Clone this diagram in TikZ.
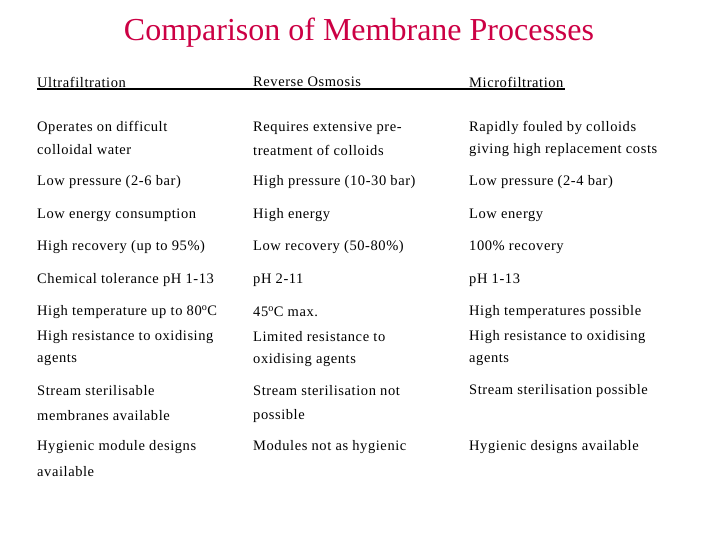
\documentclass[tikz,border=0pt]{standalone}
\usepackage{fontspec}
\setmainfont{Liberation Serif}
\newfontfamily\cellfont[LetterSpace=4]{Liberation Serif}
\begin{document}
\begin{tikzpicture}[x=1pt,y=-1pt,
  cell/.style={anchor=west,inner sep=0pt,font=\cellfont\fontsize{14.5}{16}\selectfont},
  ttl/.style={inner sep=0pt,font=\fontsize{32}{36}\selectfont,text=titlered}]
\definecolor{titlered}{RGB}{204,0,68}
\useasboundingbox (0,0) rectangle (720,540);
\node[ttl] (title) at (359,33) {Comparison of Membrane Processes};
\newcommand{\mydeg}{\textsuperscript{o}}
\foreach \y/\a/\b/\c [count=\i] in {
 82/Ultrafiltration/Reverse Osmosis/Microfiltration,
 128/Operates on difficult/Requires extensive pre-/Rapidly fouled by colloids,
 150/colloidal water/treatment of colloids/giving high replacement costs,
 182/Low pressure (2-6 bar)/High pressure (10-30 bar)/Low pressure (2-4 bar),
 215/Low energy consumption/High energy/Low energy,
 247/High recovery (up to 95\%)/Low recovery (50-80\%)/100\% recovery,
 280/Chemical tolerance pH 1-13/pH 2-11/pH 1-13,
 312/High temperature up to 80\mydeg C/45\mydeg C max./High temperatures possible,
 337/High resistance to oxidising/Limited resistance to/High resistance to oxidising,
 360/agents/oxidising agents/agents,
 391/Stream sterilisable/Stream sterilisation not/Stream sterilisation possible,
 416/membranes available/possible/,
 447/Hygienic module designs/Modules not as hygienic/Hygienic designs available,
 472/available//}{
  \node[cell] (a\i) at (37,\y) {\a};
  \node[cell] (b\i) at (253,\y) {\b};
  \node[cell] (c\i) at (469,\y) {\c};
}
\coordinate (u1) at (37,89);
\coordinate (u2) at (565,89);
\draw[line width=1.8pt] (u1) -- (u2);
\end{tikzpicture}
\end{document}
